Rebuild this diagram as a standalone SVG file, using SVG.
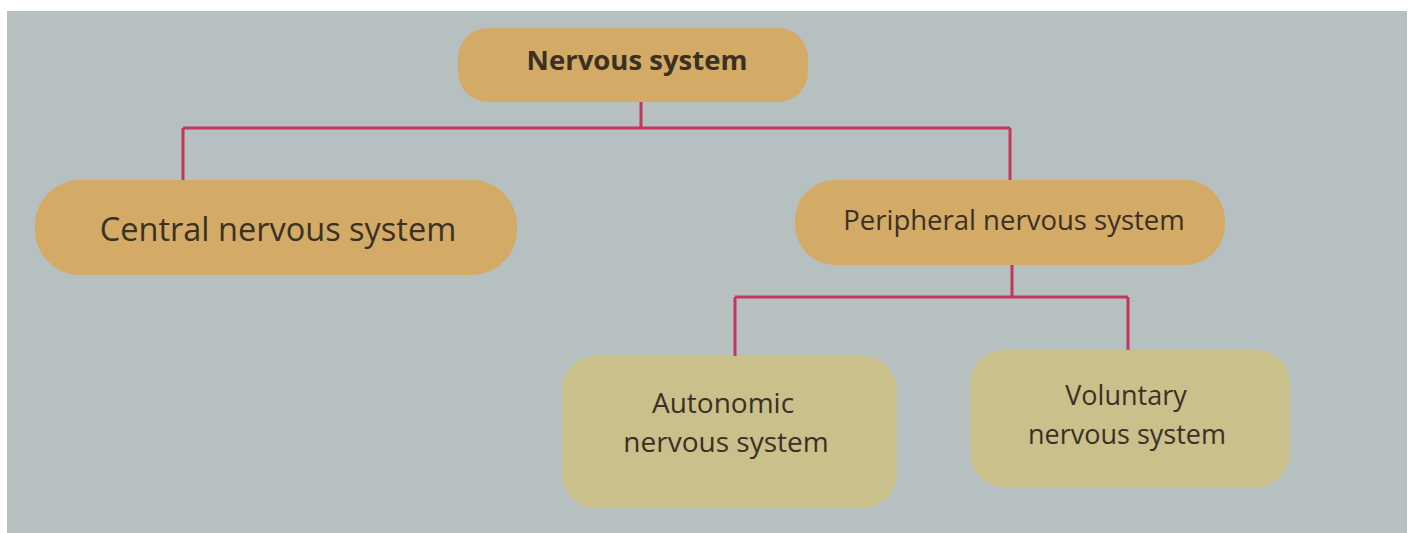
<svg xmlns="http://www.w3.org/2000/svg" width="1409" height="533" viewBox="0 0 1409 533">
<style>
.bg{fill:#b7c0c1}
.n1{fill:#d3aa66}
.n2{fill:#c9c08b}
.t{font-family:"Open Sans","Noto Sans",sans-serif;fill:#3a3124;text-anchor:middle}
.c{stroke:#c2375c;stroke-width:3;fill:none}
</style>
<rect x="0" y="0" width="1409" height="533" fill="#ffffff"/>
<rect class="bg" x="7" y="11" width="1400" height="522"/>
<g id="connectors">
<path class="c" d="M641 100V128M183 128H1010M183 128V181M1010 128V181"/>
<path class="c" d="M1012 263V297M735 297H1128M735 297V358M1128 297V352"/>
</g>
<g id="nervous-system">
<rect class="n1" x="458" y="28" width="350" height="74" rx="30"/>
<text class="t" x="637" y="70" font-size="27.5" font-weight="bold">Nervous system</text>
</g>
<g id="central">
<rect class="n1" x="35" y="180" width="482" height="95" rx="45"/>
<text class="t" x="278" y="241" font-size="32.5">Central nervous system</text>
</g>
<g id="peripheral">
<rect class="n1" x="795" y="180" width="430" height="85" rx="40"/>
<text class="t" x="1014" y="230" font-size="27.5">Peripheral nervous system</text>
</g>
<g id="autonomic">
<rect class="n2" x="562" y="356" width="335" height="152" rx="34"/>
<text class="t" x="723" y="413" font-size="28">Autonomic</text>
<text class="t" x="726" y="452" font-size="28">nervous system</text>
</g>
<g id="voluntary">
<rect class="n2" x="970" y="350" width="320" height="137" rx="34"/>
<text class="t" x="1126" y="405" font-size="27">Voluntary</text>
<text class="t" x="1127" y="444" font-size="27">nervous system</text>
</g>
</svg>
